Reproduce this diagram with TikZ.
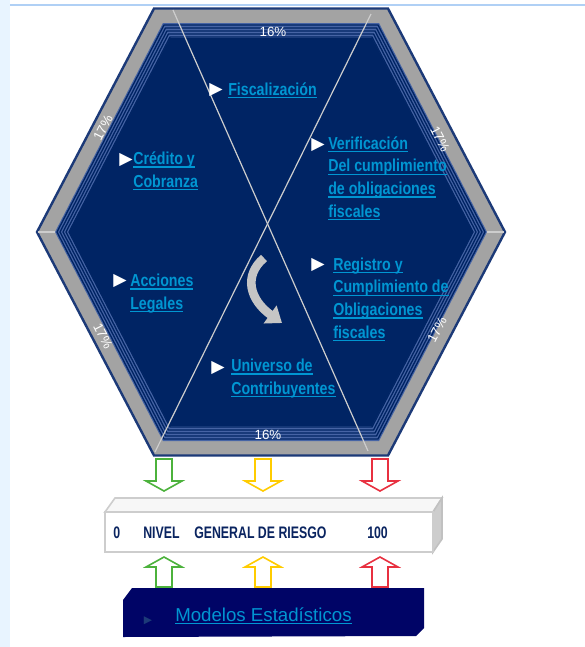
\documentclass[tikz,border=0pt]{standalone}
\usepackage{fontspec}
\setmainfont{Liberation Sans}
\newfontfamily\narrowfont[FakeStretch=0.82]{Liberation Sans}
\newfontfamily\condfont[FakeStretch=0.74]{Liberation Sans}
\newfontfamily\symfont{DejaVu Sans}
\usetikzlibrary{arrows.meta}

\definecolor{hexnavy}{RGB}{0,36,100}
\definecolor{hexedge}{RGB}{28,58,120}
\definecolor{hexgray}{RGB}{163,163,163}
\definecolor{hexband}{RGB}{70,100,165}
\definecolor{hexlight}{RGB}{205,205,205}
\definecolor{linkblue}{RGB}{0,150,210}
\definecolor{levelnavy}{RGB}{10,36,96}
\definecolor{boxnavy}{RGB}{0,4,102}
\definecolor{riskgreen}{RGB}{76,178,60}
\definecolor{riskyellow}{RGB}{255,204,0}
\definecolor{riskred}{RGB}{232,48,64}
\definecolor{pageblue}{RGB}{232,244,255}
\definecolor{lineblue}{RGB}{176,208,245}

% hexagon around (271,232): half width, half height
\newcommand{\hexpath}[2]{({271-(#1)},232) -- ({271-(#1)/2},{232-(#2)}) -- ({271+(#1)/2},{232-(#2)}) -- ({271+(#1)},232) -- ({271+(#1)/2},{232+(#2)}) -- ({271-(#1)/2},{232+(#2)}) -- cycle}
\newcommand{\ulnk}[1]{\setbox0\hbox{#1}\rlap{\rule[-2.3pt]{\wd0}{0.8pt}}\box0}

\tikzset{
  lnk/.style={font=\narrowfont\bfseries\fontsize{13}{16.9}\selectfont, text=linkblue, align=left, anchor=base west, inner sep=0pt},
  tri/.style={font=\symfont\fontsize{13}{13}\selectfont, text=white, inner sep=0pt},
  pct/.style={font=\fontsize{10}{10}\selectfont, text=white, inner sep=0pt},
  lvl/.style={font=\condfont\bfseries\fontsize{12.5}{12.5}\selectfont, text=levelnavy, anchor=base west, inner sep=0pt}
}

\begin{document}
\begin{tikzpicture}[x=0.75pt,y=-0.75pt]
\useasboundingbox (0,0) rectangle (585,647);
\fill[white] (0,0) rectangle (585,647);
\fill[pageblue] (0,0) rectangle (10,647);
\draw[lineblue, line width=1.5pt] (10,4.5) -- (585,4.5);

% hexagon frame
\fill[hexgray, draw=hexedge, line width=1.8pt] \hexpath{234}{223.5};
\draw[hexlight, line width=1pt] (38,232) -- (56,232);
\draw[hexlight, line width=1pt] (486,232) -- (504,232);
\fill[hexband] \hexpath{216}{209};
\foreach \d in {0,3,6,9,12}
  \draw[hexnavy, line width=1pt] \hexpath{214-\d}{207-\d};
\fill[hexnavy] \hexpath{202}{194};

% crossing lines
\coordinate (xa) at (173,10);
\coordinate (xb) at (368,451);
\coordinate (xc) at (371,14);
\coordinate (xd) at (155,452);
\draw[hexlight, line width=0.9pt] (xa) -- (xb);
\draw[hexlight, line width=0.9pt] (xc) -- (xd);

% percentages
\node[pct] (ptop) at (273,32) {16\%};
\node[pct] (pbot) at (268,435) {16\%};
\node[pct, rotate=62.6] (ptl) at (103,128) {17\%};
\node[pct, rotate=-62.6] (ptr) at (440,139) {17\%};
\node[pct, rotate=-62.6] (pbl) at (103,336) {17\%};
\node[pct, rotate=62.6] (pbr) at (437,330) {17\%};

% centre arrow
\draw[hexlight!90!gray, line width=6.5pt, -{Triangle[width=16pt,length=11pt]}]
  (264,258) .. controls (243,276) and (250,300) .. (282,323);

% areas (base = last line)
\node[tri] (tfisc) at (216,90) {▶};
\node[lnk] (fisc) at (228,95) {\ulnk{Fiscalización}};
\node[tri] (tcred) at (126,160) {▶};
\node[lnk] (cred) at (133,187) {\ulnk{Crédito y}\\\ulnk{Cobranza}};
\node[tri] (tverif) at (318,145) {▶};
\node[lnk] (verif) at (328,217) {\ulnk{Verificación}\\\ulnk{Del cumplimiento}\\\ulnk{de obligaciones}\\\ulnk{fiscales}};
\node[tri] (tacc) at (120,281) {▶};
\node[lnk] (acc) at (130,309) {\ulnk{Acciones}\\\ulnk{Legales}};
\node[tri] (treg) at (318,265) {▶};
\node[lnk] (reg) at (333,338) {\ulnk{Registro y}\\\ulnk{Cumplimiento de}\\\ulnk{Obligaciones}\\\ulnk{fiscales}};
\node[tri] (tuniv) at (218,368) {▶};
\node[lnk] (univ) at (231,394) {\ulnk{Universo de}\\\ulnk{Contribuyentes}};

% hollow arrows down and up
\foreach \x/\c in {164/riskgreen,263/riskyellow,380/riskred} {
  \draw[\c, line width=1.2pt, line join=miter]
    ({\x-8},459) -- ({\x-8},481) -- ({\x-18},481) -- (\x,491) -- ({\x+18},481) -- ({\x+8},481) -- ({\x+8},459) -- cycle;
  \draw[\c, line width=1.2pt, line join=miter]
    ({\x-8},587) -- ({\x-8},567) -- ({\x-18},567) -- (\x,557) -- ({\x+18},567) -- ({\x+8},567) -- ({\x+8},587) -- cycle;
}

% risk bar
\fill[white!94!gray, draw=hexlight, line width=1.2pt] (105,512) -- (115,498) -- (442,498) -- (433,512) -- cycle;
\fill[hexlight, draw=hexlight!85!gray, line width=1.2pt] (433,512) -- (442,498) -- (442,539) -- (433,552) -- cycle;
\node[draw=hexlight, line width=1.2pt, fill=white, minimum width=328*0.75pt, minimum height=40*0.75pt, inner sep=0pt] (bar) at (269,532) {};
\node[lvl] (lzero) at (113,538) {0};
\node[lvl] (lnivel) at (143,538) {NIVEL};
\node[lvl] (lgen) at (194,538) {GENERAL DE RIESGO};
\node[lvl] (lcien) at (367,538) {100};

% models box
\fill[boxnavy] (123,600) -- (132,588) -- (424,588) -- (424,628) -- (416,636) -- (123,637) -- cycle;
\node[font=\symfont\fontsize{8}{8}\selectfont, text=hexedge, inner sep=0pt] (tmod) at (148,621) {▶};
\node[font=\fontsize{14}{14}\selectfont, text=linkblue, anchor=base west, inner sep=0pt] (modelos) at (175,621) {\ulnk{Modelos Estadísticos}};
\end{tikzpicture}
\end{document}
